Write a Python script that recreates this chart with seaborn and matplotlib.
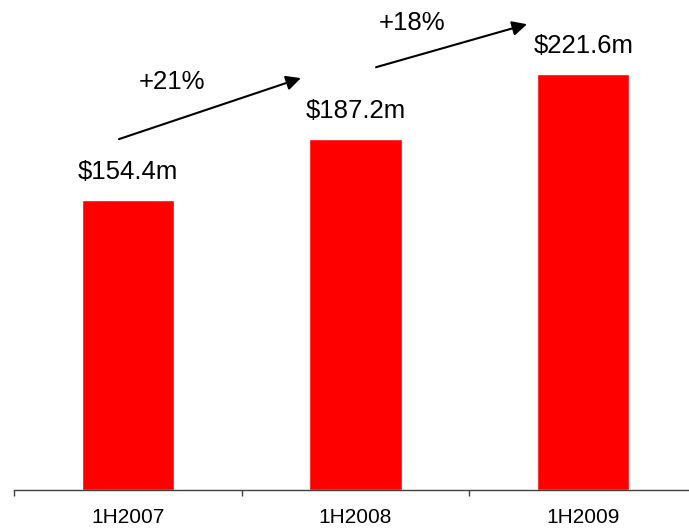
import matplotlib
matplotlib.use("Agg")
import matplotlib.pyplot as plt
import seaborn as sns
import pandas as pd

categories = ["1H2007", "1H2008", "1H2009"]
revenue = [154.4, 187.2, 221.6]
value_labels = ["$154.4m", "$187.2m", "$221.6m"]
growth_labels = ["+21%", "+18%"]

sns.set_style("white")
plt.rcParams["font.family"] = ["Liberation Sans", "DejaVu Sans"]
plt.rcParams["text.color"] = "black"
plt.rcParams["xtick.color"] = "black"

df = pd.DataFrame({"period": categories, "revenue": revenue})

fig = plt.figure(figsize=(6.89, 5.31), dpi=100)
ax = fig.add_axes([14 / 689, 41 / 531, 3 * 227.7 / 689, 490 / 531])

sns.barplot(data=df, x="period", y="revenue", color="#FF0000", saturation=1,
            width=0.405, ax=ax)

ax.set_xlim(-0.5, 2.5)
ax.set_ylim(0, 261)
ax.set_xlabel("")
ax.set_ylabel("")
ax.set_yticks([])
for s in ["left", "right", "top"]:
    ax.spines[s].set_visible(False)
ax.spines["bottom"].set_color("#404040")
ax.spines["bottom"].set_linewidth(1)

ax.set_xticks(range(len(categories)))
ax.set_xticklabels(categories, fontsize=15, color="black")
ax.set_xticks([-0.5, 0.5, 1.5, 2.5], minor=True)
ax.tick_params(axis="x", which="both", bottom=True)
ax.tick_params(axis="x", which="major", length=0, pad=13)
ax.tick_params(axis="x", which="minor", length=4, width=1, color="#404040", direction="out")

for i, (v, lab) in enumerate(zip(revenue, value_labels)):
    ax.annotate(lab, xy=(i, v), xytext=(0, 20), textcoords="offset points",
                ha="center", va="center", fontsize=18.5, color="black")

arrows = [((-0.039, 186.9), (0.760, 219.4)), ((1.090, 225.2), (1.753, 248.1))]
text_pos = [(0.194, 217.3), (1.248, 248.7)]
for (start, end), tp, lab in zip(arrows, text_pos, growth_labels):
    ax.annotate("", xy=end, xytext=start,
                arrowprops=dict(arrowstyle="-|>", mutation_scale=22, lw=1.5,
                                color="black", shrinkA=0, shrinkB=0))
    ax.text(tp[0], tp[1], lab, ha="center", va="center", fontsize=18.5, color="black")

fig.savefig("out.png", dpi=100)
